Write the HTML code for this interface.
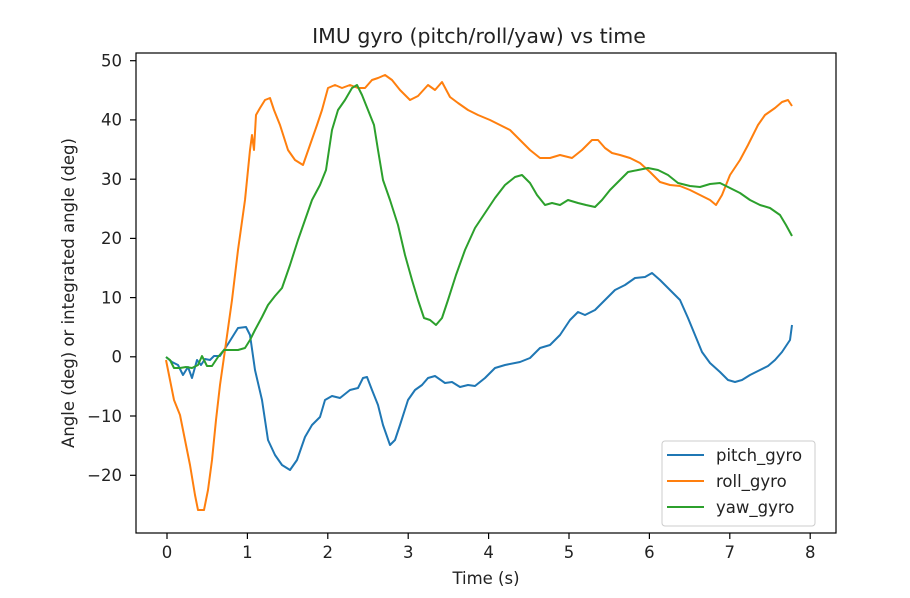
<!DOCTYPE html>
<html><head><meta charset="utf-8"><style>body{margin:0;background:#fff}svg{display:block}</style></head><body>
<svg width="910" height="598" xmlns="http://www.w3.org/2000/svg" font-family="DejaVu Sans, Liberation Sans, sans-serif">
<rect width="910" height="598" fill="#fff"/>
<text x="479" y="43" font-size="20.5" text-anchor="middle" fill="#222">IMU gyro (pitch/roll/yaw) vs time</text>
<g stroke="#1f77b4" fill="none" stroke-width="2" stroke-linejoin="round">
<polyline points="166,357 172,362 178,365 183,375 188,367 192,378 197,360 201,365 205,359 210,360 214,356 220,356 228,344 238,328 246,327 250,335 255,370 262,400 268,440 275,455 282,465 290,470 297,460 305,437 312,425 320,417 325,400 332,396 340,398 350,390 358,388 363,378 367,377 372,390 378,405 383,425 390,445 395,440 400,425 408,400 415,390 422,385 428,378 435,376 445,383 452,382 460,387 468,385 475,386 485,378 495,368 505,365 520,362 530,358 540,348 550,345 560,335 570,320 578,312 585,315 595,310 605,300 615,290 625,285 635,278 645,277 652,273 660,280 670,290 680,300 688,318 695,335 702,352 710,363 720,372 728,380 735,382 742,380 750,375 760,370 768,366 775,360 782,352 790,340 792,325"/>
</g>
<g stroke="#ff7f0e" fill="none" stroke-width="2" stroke-linejoin="round">
<polyline points="166,360 170,380 174,400 180,415 185,440 190,465 195,495 198,510 204,510 208,490 212,460 216,420 220,385 225,350 232,300 238,250 245,200 250,150 252,135 254,150 256,115 260,108 265,100 270,98 274,110 280,125 288,150 295,160 303,165 310,145 317,125 322,110 328,88 335,85 342,88 350,85 358,88 365,88 372,80 378,78 385,75 392,80 400,90 410,100 418,96 428,85 435,90 442,82 450,97 458,103 468,110 478,115 490,120 500,125 510,130 520,140 530,150 540,158 550,158 560,155 572,158 582,150 592,140 598,140 605,148 612,153 620,155 630,158 640,163 650,172 660,182 670,185 680,186 690,190 700,195 710,200 716,205 722,195 730,175 740,160 748,145 758,125 765,115 775,108 782,102 788,100 792,106"/>
</g>
<g stroke="#2ca02c" fill="none" stroke-width="2" stroke-linejoin="round">
<polyline points="166,357 170,360 174,368 180,368 186,367 192,368 198,365 202,356 207,366 212,366 218,357 224,350 230,350 238,350 245,348 250,340 255,330 262,317 268,305 275,296 282,288 290,265 298,240 305,220 312,200 320,185 326,170 332,130 338,110 345,100 352,88 357,85 362,95 368,110 374,125 378,150 383,180 390,200 398,225 405,255 412,280 418,300 424,318 430,320 436,325 442,318 448,300 456,275 465,250 475,228 485,213 495,198 505,185 515,177 522,175 530,183 537,195 545,205 552,203 560,205 568,200 578,203 586,205 595,207 602,200 610,190 620,180 628,172 638,170 648,168 658,170 668,175 678,183 690,186 700,187 710,184 720,183 730,188 740,193 750,200 760,205 770,208 780,215 786,225 792,236"/>
</g>
<rect x="136" y="53" width="700" height="480" fill="none" stroke="#000" stroke-width="1.2"/>
<g stroke="#000" stroke-width="1.2">
<line x1="167" y1="533" x2="167" y2="539"/><line x1="247.4" y1="533" x2="247.4" y2="539"/><line x1="327.8" y1="533" x2="327.8" y2="539"/><line x1="408.2" y1="533" x2="408.2" y2="539"/><line x1="488.6" y1="533" x2="488.6" y2="539"/><line x1="569" y1="533" x2="569" y2="539"/><line x1="649.4" y1="533" x2="649.4" y2="539"/><line x1="729.8" y1="533" x2="729.8" y2="539"/><line x1="810.2" y1="533" x2="810.2" y2="539"/>
<line x1="130" y1="60.7" x2="136" y2="60.7"/><line x1="130" y1="119.9" x2="136" y2="119.9"/><line x1="130" y1="179.2" x2="136" y2="179.2"/><line x1="130" y1="238.4" x2="136" y2="238.4"/><line x1="130" y1="297.6" x2="136" y2="297.6"/><line x1="130" y1="356.8" x2="136" y2="356.8"/><line x1="130" y1="416" x2="136" y2="416"/><line x1="130" y1="475.3" x2="136" y2="475.3"/>
</g>
<g font-size="16.5" fill="#222" text-anchor="middle">
<text x="167" y="558">0</text><text x="247.4" y="558">1</text><text x="327.8" y="558">2</text><text x="408.2" y="558">3</text><text x="488.6" y="558">4</text><text x="569" y="558">5</text><text x="649.4" y="558">6</text><text x="729.8" y="558">7</text><text x="810.2" y="558">8</text>
</g>
<g font-size="16.5" fill="#222" text-anchor="end">
<text x="122" y="66.5">50</text><text x="122" y="125.7">40</text><text x="122" y="185">30</text><text x="122" y="244.2">20</text><text x="122" y="303.4">10</text><text x="122" y="362.6">0</text><text x="122" y="421.8">−10</text><text x="122" y="481.1">−20</text>
</g>
<text x="486" y="584" font-size="16.5" text-anchor="middle" fill="#222">Time (s)</text>
<text transform="translate(74,293) rotate(-90)" font-size="16.5" text-anchor="middle" fill="#222">Angle (deg) or integrated angle (deg)</text>
<rect x="662" y="441" width="153" height="85" rx="3" fill="#fff" stroke="#ccc"/>
<line x1="667" y1="455" x2="704" y2="455" stroke="#1f77b4" stroke-width="2"/>
<line x1="667" y1="481" x2="704" y2="481" stroke="#ff7f0e" stroke-width="2"/>
<line x1="667" y1="507" x2="704" y2="507" stroke="#2ca02c" stroke-width="2"/>
<g font-size="16.5" fill="#222"><text x="716" y="461">pitch_gyro</text><text x="716" y="487">roll_gyro</text><text x="716" y="513">yaw_gyro</text></g>
</svg>
</body></html>
